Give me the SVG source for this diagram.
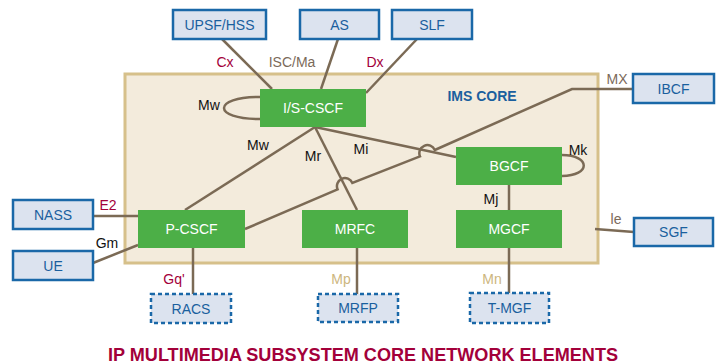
<svg xmlns="http://www.w3.org/2000/svg" width="720" height="364" viewBox="0 0 720 364">
<style>
.ext rect{fill:#dce3ef;stroke:#1a68a8;stroke-width:2.5}
.dash rect{fill:#dce3ef;stroke:#1a68a8;stroke-width:2.5;stroke-dasharray:4 3}
.ext text,.dash text{fill:#1a5f9e;font-family:"Liberation Sans",Arial,sans-serif;font-size:14px;text-anchor:middle}
.core rect{fill:#4caf47}
.core text{fill:#ffffff;font-family:"Liberation Sans",Arial,sans-serif;font-size:14px;text-anchor:middle}
.lines path,.lines line{stroke:#7b6a55;stroke-width:2.5;fill:none}
.lbl{font-family:"Liberation Sans",Arial,sans-serif;font-size:14px;text-anchor:middle}
.red{fill:#a3003a}
.blk{fill:#111111}
.gry{fill:#7b6a5a}
.tan{fill:#cdb67e}
</style>
<rect x="125" y="74" width="473" height="189" fill="#f3ebdc" stroke="#d6c08a" stroke-width="3"/>
<text x="482" y="101" font-family="Liberation Sans,Arial,sans-serif" font-size="14" font-weight="bold" fill="#1a5f9e" text-anchor="middle">IMS CORE</text>

<g class="lines">
<line x1="222" y1="39" x2="272" y2="89"/>
<line x1="338" y1="39" x2="321" y2="89"/>
<line x1="417" y1="39" x2="366" y2="93"/>
<path d="M260,97 C212,97 212,119 260,119"/>
<path d="M562,155 C591,155 591,176 562,176"/>
<line x1="315" y1="127" x2="185" y2="210"/>
<line x1="315" y1="127" x2="357" y2="210"/>
<line x1="315" y1="127" x2="456" y2="157"/>
<path d="M633,89 L572,89 L434.8,150 A8,8 0 0 0 420,156.4 L352.4,183 A8,8 0 0 0 337.6,189.4 L245,229"/>
<line x1="509" y1="185" x2="509" y2="210"/>
<line x1="93" y1="216" x2="138" y2="216"/>
<line x1="93" y1="263" x2="138" y2="245"/>
<line x1="193" y1="248" x2="193" y2="294"/>
<line x1="357" y1="248" x2="357" y2="294"/>
<line x1="509" y1="248" x2="509" y2="293"/>
<line x1="595" y1="229" x2="634" y2="232"/>
</g>

<g id="upsf" class="ext"><rect x="173" y="10" width="93" height="29"/><text x="219.5" y="29.5">UPSF/HSS</text></g>
<g id="as" class="ext"><rect x="300" y="10" width="79" height="29"/><text x="339.5" y="29.5">AS</text></g>
<g id="slf" class="ext"><rect x="392" y="10" width="80" height="29"/><text x="432" y="29.5">SLF</text></g>
<g id="ibcf" class="ext"><rect x="633" y="74" width="81" height="29"/><text x="673.5" y="93.5">IBCF</text></g>
<g id="nass" class="ext"><rect x="13" y="200" width="80" height="29"/><text x="53" y="219.5">NASS</text></g>
<g id="ue" class="ext"><rect x="13" y="251" width="80" height="29"/><text x="53" y="270.5">UE</text></g>
<g id="sgf" class="ext"><rect x="634" y="218" width="79" height="28"/><text x="673.5" y="237">SGF</text></g>
<g id="racs" class="dash"><rect x="151" y="294" width="80" height="29"/><text x="191" y="313.5">RACS</text></g>
<g id="mrfp" class="dash"><rect x="318" y="294" width="80" height="28"/><text x="358" y="313">MRFP</text></g>
<g id="tmgf" class="dash"><rect x="470" y="293" width="79" height="30"/><text x="509.5" y="313">T-MGF</text></g>

<g id="iscscf" class="core"><rect x="260" y="89" width="106" height="38"/><text x="313" y="113">I/S-CSCF</text></g>
<g id="bgcf" class="core"><rect x="456" y="147" width="106" height="38"/><text x="509" y="171">BGCF</text></g>
<g id="pcscf" class="core"><rect x="138" y="210" width="107" height="38"/><text x="191.5" y="234">P-CSCF</text></g>
<g id="mrfc" class="core"><rect x="302" y="210" width="106" height="38"/><text x="355" y="234">MRFC</text></g>
<g id="mgcf" class="core"><rect x="456" y="210" width="106" height="38"/><text x="509" y="234">MGCF</text></g>

<g id="labels">
<text class="lbl red" x="225" y="67">Cx</text>
<text class="lbl gry" x="292" y="67">ISC/Ma</text>
<text class="lbl red" x="375" y="67">Dx</text>
<text class="lbl blk" x="209" y="110">Mw</text>
<text class="lbl blk" x="258" y="150">Mw</text>
<text class="lbl blk" x="313" y="161">Mr</text>
<text class="lbl blk" x="361" y="154">Mi</text>
<text class="lbl gry" x="617" y="84">MX</text>
<text class="lbl blk" x="578" y="155">Mk</text>
<text class="lbl blk" x="491" y="204">Mj</text>
<text class="lbl red" x="108" y="210">E2</text>
<text class="lbl blk" x="107" y="248">Gm</text>
<text class="lbl gry" x="616" y="224">le</text>
<text class="lbl red" x="174" y="284">Gq'</text>
<text class="lbl tan" x="341" y="284">Mp</text>
<text class="lbl tan" x="492" y="284">Mn</text>
</g>

<text x="363" y="361" font-family="Liberation Sans,Arial,sans-serif" font-size="18" font-weight="bold" fill="#a3003a" text-anchor="middle" textLength="510" lengthAdjust="spacingAndGlyphs">IP MULTIMEDIA SUBSYSTEM CORE NETWORK ELEMENTS</text>
</svg>
